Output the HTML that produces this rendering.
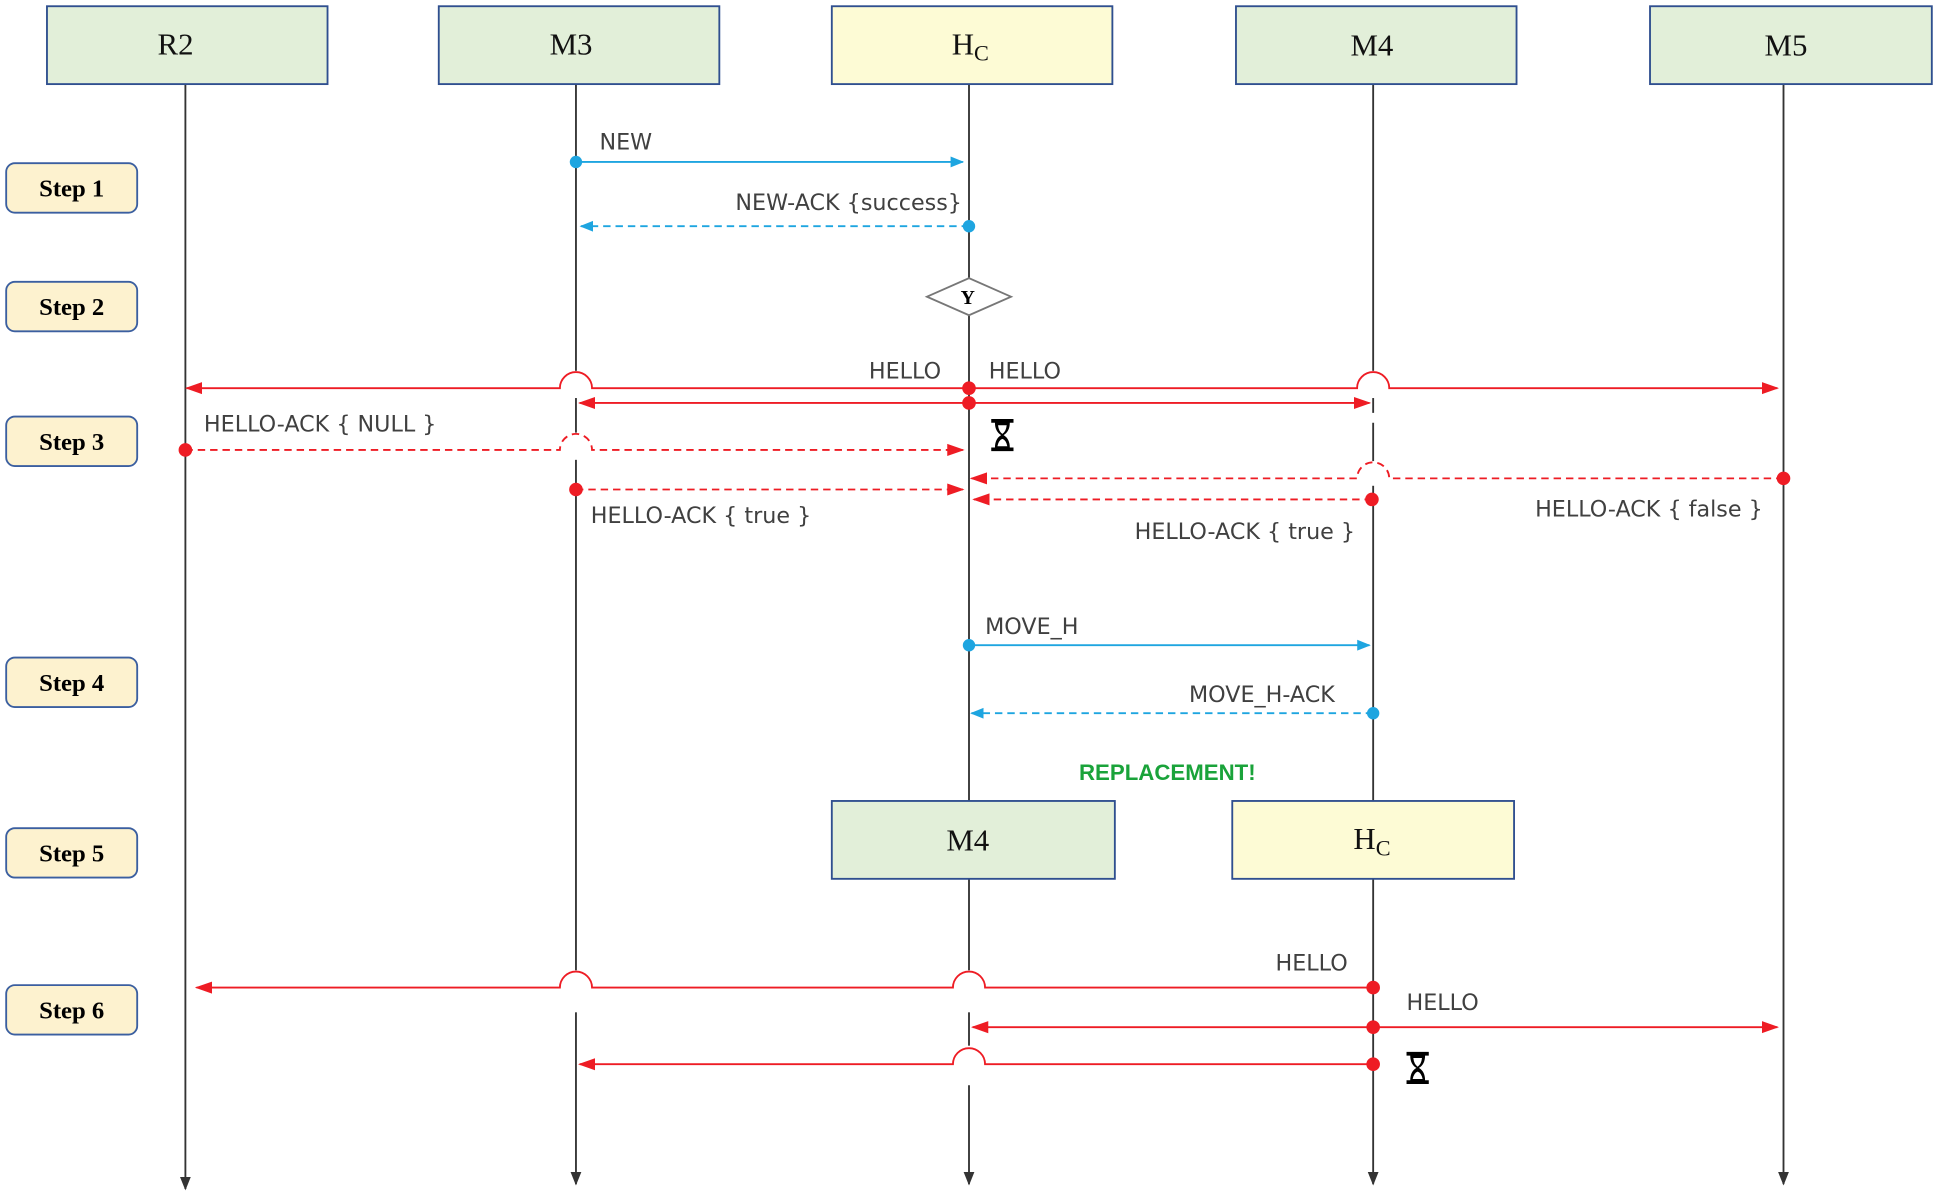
<!DOCTYPE html>
<html><head><meta charset="utf-8"><style>
html,body{margin:0;padding:0;background:#fff;}
svg{display:block;}
.lbl{font-family:"DejaVu Sans","Liberation Sans",sans-serif;font-size:18px;fill:#404040;}
.box{font-family:"Liberation Serif",serif;font-size:25px;fill:#111;}
.step{font-family:"Liberation Serif",serif;font-size:20px;font-weight:bold;fill:#000;}
</style></head><body>
<svg width="1938" height="1199" viewBox="0 0 1568 970" xmlns="http://www.w3.org/2000/svg">
<defs>
<marker id="ab" viewBox="0 0 10 10" refX="9" refY="5" markerWidth="11" markerHeight="11" markerUnits="userSpaceOnUse" orient="auto"><path d="M0,1 L10,5 L0,9 z" fill="#1ea5e0"/></marker>
<marker id="ar" viewBox="0 0 10 10" refX="9" refY="5" markerWidth="14" markerHeight="14" markerUnits="userSpaceOnUse" orient="auto"><path d="M0,1.5 L10,5 L0,8.5 z" fill="#ee1c24"/></marker>
<marker id="ak" viewBox="0 0 10 10" refX="9" refY="5" markerWidth="11" markerHeight="11" markerUnits="userSpaceOnUse" orient="auto"><path d="M0,1 L10,5 L0,9 z" fill="#333"/></marker>
<g id="hg"><path d="M-9,-13 H9 V-10 H6 Q6,-3 1,0 Q6,3 6,10 H9 V13 H-9 V10 H-6 Q-6,3 -1,0 Q-6,-3 -6,-10 H-9 Z" fill="#000"/><path d="M-3.5,-8 H3.5 Q3,-3 0,-1 Q-3,-3 -3.5,-8Z M-4,9 Q-3,4 0,3 Q3,4 4,9Z" fill="#fff"/></g>
</defs>
<g stroke="#333" stroke-width="1.5" marker-end="url(#ak)">
<line x1="150" y1="68" x2="150" y2="962"/>
<line x1="466" y1="68" x2="466" y2="958"/>
<line x1="784" y1="68" x2="784" y2="958"/>
<line x1="1111" y1="68" x2="1111" y2="958"/>
<line x1="1443" y1="68" x2="1443" y2="958"/>
</g>
<g fill="#fff">
<rect x="460" y="300" width="12" height="22"/>
<rect x="460" y="350" width="12" height="22"/>
<rect x="1105" y="300" width="12" height="22"/>
<rect x="1105" y="334" width="12" height="8"/>
<rect x="1105" y="373" width="12" height="20"/>
<rect x="460" y="785" width="12" height="34"/>
<rect x="778" y="785" width="12" height="34"/>
<rect x="778" y="846" width="12" height="32"/>
</g>
<g stroke="#2f4f8f" stroke-width="1.5">
<rect x="38" y="5" width="227" height="63" fill="#e2efd9"/>
<rect x="355" y="5" width="227" height="63" fill="#e2efd9"/>
<rect x="673" y="5" width="227" height="63" fill="#fdfbd5"/>
<rect x="1000" y="5" width="227" height="63" fill="#e2efd9"/>
<rect x="1335" y="5" width="228" height="63" fill="#e2efd9"/>
<rect x="673" y="648" width="229" height="63" fill="#e2efd9"/>
<rect x="997" y="648" width="228" height="63" fill="#fdfbd5"/>
</g>
<text class="box" x="142" y="44" text-anchor="middle">R2</text>
<text class="box" x="462" y="44" text-anchor="middle">M3</text>
<text class="box" x="770" y="44">H<tspan font-size="18" dy="5">C</tspan></text>
<text class="box" x="1110" y="45" text-anchor="middle">M4</text>
<text class="box" x="1445" y="45" text-anchor="middle">M5</text>
<text class="box" x="783" y="688" text-anchor="middle">M4</text>
<text class="box" x="1095" y="687">H<tspan font-size="18" dy="5">C</tspan></text>
<g stroke="#3b5fa0" stroke-width="1.5" fill="#fdf2cf">
<rect x="5" y="132" width="106" height="40" rx="7"/>
<rect x="5" y="228" width="106" height="40" rx="7"/>
<rect x="5" y="337" width="106" height="40" rx="7"/>
<rect x="5" y="532" width="106" height="40" rx="7"/>
<rect x="5" y="670" width="106" height="40" rx="7"/>
<rect x="5" y="797" width="106" height="40" rx="7"/>
</g>
<g class="step" text-anchor="middle">
<text x="58" y="159">Step 1</text><text x="58" y="255">Step 2</text><text x="58" y="364">Step 3</text>
<text x="58" y="559">Step 4</text><text x="58" y="697">Step 5</text><text x="58" y="824">Step 6</text>
</g>
<line x1="466" y1="131" x2="779" y2="131" stroke="#1ea5e0" stroke-width="1.5" marker-end="url(#ab)"/>
<circle cx="466" cy="131" r="5" fill="#1ea5e0"/>
<text class="lbl" x="485" y="121">NEW</text>
<line x1="784" y1="183" x2="470" y2="183" stroke="#1ea5e0" stroke-width="1.5" stroke-dasharray="6,4" marker-end="url(#ab)"/>
<circle cx="784" cy="183" r="5" fill="#1ea5e0"/>
<text class="lbl" x="595" y="170">NEW-ACK {success}</text>
<polygon points="750,240 784,225 818,240 784,255" fill="#fff" stroke="#777" stroke-width="1.5"/>
<text x="783" y="246" text-anchor="middle" font-family="Liberation Serif,serif" font-weight="bold" font-size="16">Y</text>
<g stroke="#ee1c24" stroke-width="1.5" fill="none">
<path d="M784,314 H479 A13,13 0 0 0 453,314 H151" marker-end="url(#ar)"/>
<path d="M784,314 H1098 A13,13 0 0 1 1124,314 H1438" marker-end="url(#ar)"/>
<line x1="784" y1="326" x2="469" y2="326" marker-end="url(#ar)"/>
<line x1="784" y1="326" x2="1108" y2="326" marker-end="url(#ar)"/>
<path d="M150,364 H453 A13,13 0 0 1 479,364 H779" stroke-dasharray="6,4" marker-end="url(#ar)"/>
<path d="M1443,387 H1124 A13,13 0 0 0 1098,387 H786" stroke-dasharray="6,4" marker-end="url(#ar)"/>
<line x1="466" y1="396" x2="779" y2="396" stroke-dasharray="6,4" marker-end="url(#ar)"/>
<line x1="1110" y1="404" x2="788" y2="404" stroke-dasharray="6,4" marker-end="url(#ar)"/>
</g>
<g fill="#ee1c24">
<circle cx="784" cy="314" r="5.5"/><circle cx="784" cy="326" r="5.5"/>
<circle cx="150" cy="364" r="5.5"/><circle cx="1443" cy="387" r="5.5"/>
<circle cx="466" cy="396" r="5.5"/><circle cx="1110" cy="404" r="5.5"/>
</g>
<text class="lbl" x="703" y="306">HELLO</text>
<text class="lbl" x="800" y="306">HELLO</text>
<text class="lbl" x="165" y="349">HELLO-ACK { NULL }</text>
<text class="lbl" x="478" y="423">HELLO-ACK { true }</text>
<text class="lbl" x="918" y="436">HELLO-ACK { true }</text>
<text class="lbl" x="1242" y="418">HELLO-ACK { false }</text>
<use href="#hg" x="811" y="352"/>
<line x1="784" y1="522" x2="1108" y2="522" stroke="#1ea5e0" stroke-width="1.5" marker-end="url(#ab)"/>
<circle cx="784" cy="522" r="5" fill="#1ea5e0"/>
<text class="lbl" x="797" y="513">MOVE_H</text>
<line x1="1111" y1="577" x2="786" y2="577" stroke="#1ea5e0" stroke-width="1.5" stroke-dasharray="6,4" marker-end="url(#ab)"/>
<circle cx="1111" cy="577" r="5" fill="#1ea5e0"/>
<text class="lbl" x="962" y="568">MOVE_H-ACK</text>
<text x="873" y="631" font-family="Liberation Sans,sans-serif" font-weight="bold" font-size="18" fill="#1aa33a">REPLACEMENT!</text>
<g stroke="#ee1c24" stroke-width="1.5" fill="none">
<path d="M1111,799 H797 A13,13 0 0 0 771,799 H479 A13,13 0 0 0 453,799 H159" marker-end="url(#ar)"/>
<line x1="1111" y1="831" x2="787" y2="831" marker-end="url(#ar)"/>
<line x1="1111" y1="831" x2="1438" y2="831" marker-end="url(#ar)"/>
<path d="M1111,861 H797 A13,13 0 0 0 771,861 H469" marker-end="url(#ar)"/>
</g>
<g fill="#ee1c24"><circle cx="1111" cy="799" r="5.5"/><circle cx="1111" cy="831" r="5.5"/><circle cx="1111" cy="861" r="5.5"/></g>
<text class="lbl" x="1032" y="785">HELLO</text>
<text class="lbl" x="1138" y="817">HELLO</text>
<use href="#hg" x="1147" y="864"/>
</svg>
</body></html>
